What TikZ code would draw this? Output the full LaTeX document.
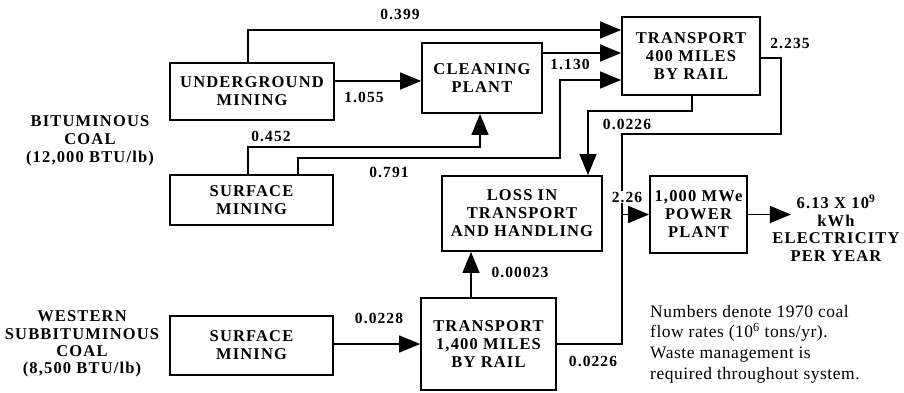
\documentclass[tikz,border=0pt]{standalone}
\usepackage{fontspec}
\setmainfont{Liberation Serif}
\newfontfamily\lblfont{Liberation Serif}[LetterSpace=7]
\newfontfamily\notefont{Liberation Serif}[LetterSpace=3]
\usetikzlibrary{arrows.meta,calc}
\tikzset{
  box/.style={draw, line width=1.8pt, align=center, inner sep=0pt,
    font=\lblfont\bfseries\fontsize{16.5}{18}\selectfont},
  lbl/.style={inner sep=0pt, font=\lblfont\bfseries\fontsize{15.5}{18}\selectfont},
  side/.style={inner sep=0pt, align=center, font=\lblfont\bfseries\fontsize{16.5}{18}\selectfont},
  note/.style={inner sep=0pt, align=left, font=\notefont\fontsize{17.5}{20.7}\selectfont},
  flow/.style={line width=1.5pt, -{Triangle[length=21pt,width=17pt]}},
  line/.style={line width=1.5pt}
}
\begin{document}
\begin{tikzpicture}[x=1pt,y=-1pt]
\useasboundingbox[fill=white] (0,0) rectangle (904,393);

% boxes
\node[box, minimum width=164pt, minimum height=57pt] (um) at (252,91.5) {UNDERGROUND\\MINING};
\node[box, minimum width=120pt, minimum height=70pt] (cp) at (482,78) {CLEANING\\PLANT};
\node[box, minimum width=138pt, minimum height=78pt] (t4) at (691,56) {TRANSPORT\\400 MILES\\BY RAIL};
\node[box, minimum width=163pt, minimum height=50pt] (sm) at (251.5,200) {SURFACE\\MINING};
\node[box, minimum width=160pt, minimum height=75pt] (loss) at (522,213.5) {LOSS IN\\TRANSPORT\\AND HANDLING};
\node[box, minimum width=97pt, minimum height=77pt] (pp) at (698.5,214.5) {1,000 MWe\\POWER\\PLANT};
\node[box, minimum width=135pt, minimum height=92pt] (t14) at (488.5,344) {TRANSPORT\\1,400 MILES\\BY RAIL};
\node[box, minimum width=163pt, minimum height=59pt] (ws) at (251.5,345.5) {SURFACE\\MINING};

% side texts
\node[side] (bit) at (90,141) {BITUMINOUS\\COAL\\(12,000 BTU/lb)};
\node[side, font=\lblfont\bfseries\fontsize{16.5}{17.3}\selectfont] (west) at (82,344) {WESTERN\\SUBBITUMINOUS\\COAL\\(8,500 BTU/lb)};
\node[side, font=\lblfont\bfseries\fontsize{16.5}{17.5}\selectfont] (out) at (836,228) {6.13 X 10\textsuperscript{9}\\kWh\\ELECTRICITY\\PER YEAR};
\node[note, anchor=west] (note) at (650,344) {Numbers denote 1970 coal\\flow rates (10\textsuperscript{6} tons/yr).\\Waste management is\\required throughout system.};

% connectors
\draw[flow] ($(um.north)+(-4,0)$) |- ($(t4.west)+(0,-26)$);
\draw[flow] ($(um.east)+(0,-10.5)$) -- ($(cp.west)+(0,3)$);
\draw[flow] ($(cp.east)+(0,-25)$) -- ($(t4.west)+(0,-3)$);
\draw[flow] ($(sm.north)+(-3.5,0)$) |- ($(cp.south)+(-2,33)$) -- ($(cp.south)+(-2,0)$);
\draw[flow] ($(sm.north)+(46.5,0)$) |- ($(t4.west)+(-61,102)$) |- ($(t4.west)+(0,24)$);
\draw[flow] ($(t4.south)+(1,0)$) |- ($(loss.north)+(66,-64)$) -- ($(loss.north)+(66,0)$);
\draw[flow] ($(t4.east)+(0,2)$) -| ($(t4.east)+(20,78)$) -| ($(pp.west)+(-27,0)$) -- (pp.west);
\draw[line] (t14.east) -| ($(pp.west)+(-27,0)$);
\draw[flow] ($(t14.north)+(-17.5,0)$) -- ($(loss.south)+(-51,0)$);
\draw[flow] ($(ws.east)+(0,-1.5)$) -- (t14.west);
\draw[flow] (pp.east) -- ($(pp.east)+(43,0)$);

% flow labels
\node[lbl] (l399) at (400,14) {0.399};
\node[lbl] (l1055) at (364,97) {1.055};
\node[lbl] (l452) at (271,136) {0.452};
\node[lbl] (l791) at (389,172) {0.791};
\node[lbl] (l1130) at (570,64) {1.130};
\node[lbl] (l2235) at (790,43) {2.235};
\node[lbl] (l0226a) at (627,124) {0.0226};
\node[lbl, fill=white, inner sep=1pt] (l226) at (627,197) {2.26};
\node[lbl] (l00023) at (520,272) {0.00023};
\node[lbl] (l0228) at (379,318) {0.0228};
\node[lbl] (l0226b) at (593,361) {0.0226};
\end{tikzpicture}
\end{document}
